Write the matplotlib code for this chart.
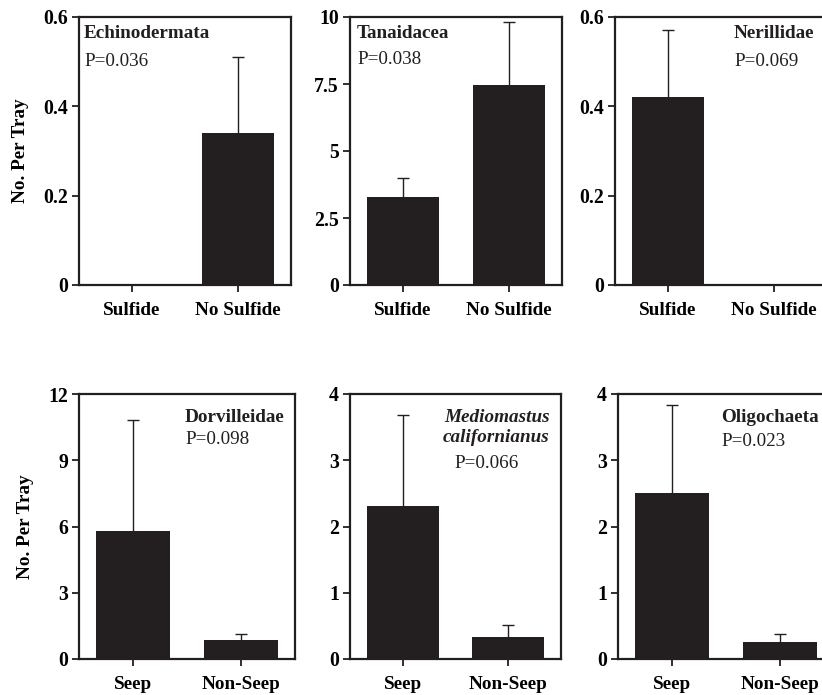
import matplotlib
matplotlib.use("agg")
from matplotlib import pyplot as plt

plt.rcParams["font.family"] = ["Liberation Serif", "DejaVu Serif"]

# data
sulfide_cats = ["Sulfide", "No Sulfide"]
seep_cats = ["Seep", "Non-Seep"]

echino_mean = [0.0, 0.34]
echino_err = [0.0, 0.17]
tanaid_mean = [3.30, 7.45]
tanaid_err = [0.68, 2.35]
nerill_mean = [0.42, 0.0]
nerill_err = [0.15, 0.0]
dorvil_mean = [5.80, 0.86]
dorvil_err = [5.03, 0.26]
medio_mean = [2.31, 0.33]
medio_err = [1.38, 0.18]
oligo_mean = [2.50, 0.25]
oligo_err = [1.34, 0.13]

ylims = [0.6, 10, 0.6, 12, 4, 4]
yticks = [
    [0, 0.2, 0.4, 0.6],
    [0, 2.5, 5, 7.5, 10],
    [0, 0.2, 0.4, 0.6],
    [0, 3, 6, 9, 12],
    [0, 1, 2, 3, 4],
    [0, 1, 2, 3, 4],
]
yticklabels = [
    ["0", "0.2", "0.4", "0.6"],
    ["0", "2.5", "5", "7.5", "10"],
    ["0", "0.2", "0.4", "0.6"],
    ["0", "3", "6", "9", "12"],
    ["0", "1", "2", "3", "4"],
    ["0", "1", "2", "3", "4"],
]

W, H = 822, 695
BAR = "#231f20"
FS = 13.8

# axes boxes in pixels: left, top, right, bottom
boxes = [
    (79, 17, 291, 285),
    (350, 17, 562, 285),
    (615, 17, 827, 285),
    (79, 394, 295, 659),
    (350, 394, 561, 659),
    (618, 394, 834, 659),
]

panels = [
    (sulfide_cats, echino_mean, echino_err),
    (sulfide_cats, tanaid_mean, tanaid_err),
    (sulfide_cats, nerill_mean, nerill_err),
    (seep_cats, dorvil_mean, dorvil_err),
    (seep_cats, medio_mean, medio_err),
    (seep_cats, oligo_mean, oligo_err),
]

fig = plt.figure(figsize=(W / 100, H / 100), dpi=100)

for i, ((cats, mean, err), (l, t, r, b)) in enumerate(zip(panels, boxes)):
    ax = fig.add_axes([l / W, 1 - b / H, (r - l) / W, (b - t) / H])
    x = list(range(len(cats)))
    ax.bar(x, mean, width=0.68, color=BAR, zorder=2)
    for xi, m, e in zip(x, mean, err):
        if e > 0:
            _, caps, _ = ax.errorbar(xi, m, yerr=[[0], [e]], fmt="none", ecolor=BAR,
                                     elinewidth=1.0, capsize=4.3, capthick=1.0, zorder=1)
            caps[0].set_visible(False)  # only the upper cap
    ax.set_xlim(-0.5, 1.5)
    ax.set_ylim(0, ylims[i])
    ax.set_xticks(x)
    ax.set_xticklabels(cats, fontsize=FS, fontweight="bold")
    ax.set_yticks(yticks[i])
    ax.set_yticklabels(yticklabels[i], fontsize=FS + 0.4, fontweight="bold")
    ax.tick_params(direction="out", length=5, width=1.3, color=BAR, pad=3)
    ax.tick_params(axis="x", pad=7)
    for s in ax.spines.values():
        s.set_linewidth(1.6)
        s.set_color(BAR)
    if i in (0, 3):
        ax.set_ylabel("No. Per Tray", fontsize=FS, fontweight="bold", labelpad=10)


def label(px, py, s, **kw):
    fig.text(px / W, 1 - py / H, s, va="center", ha="left", fontsize=FS,
             color=BAR, **kw)


label(84, 33, "Echinodermata", fontweight="bold")
label(84, 62, "P=0.036")
label(357, 34, "Tanaidacea", fontweight="bold")
label(357, 59, "P=0.038")
label(734, 33, "Nerillidae", fontweight="bold")
label(734, 61, "P=0.069")
label(185, 417, "Dorvilleidae", fontweight="bold")
label(185, 440, "P=0.098")
label(444, 417, "Mediomastus", fontweight="bold", style="italic")
label(443, 437, "californianus", fontweight="bold", style="italic")
label(454, 464, "P=0.066")
label(721, 417, "Oligochaeta", fontweight="bold")
label(721, 441, "P=0.023")

fig.savefig("out.png", dpi=100)
plt.close(fig)
